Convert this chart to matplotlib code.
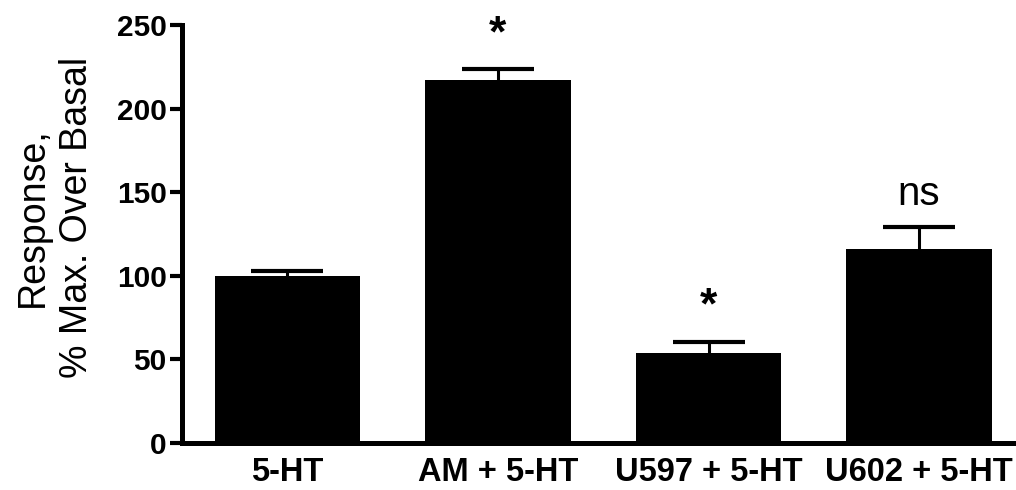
import numpy as np
import matplotlib
matplotlib.use('Agg')
import matplotlib.pyplot as plt

plt.rcParams['font.family'] = ['Liberation Sans', 'DejaVu Sans']

groups = ['5-HT', 'AM + 5-HT', 'U597 + 5-HT', 'U602 + 5-HT']
response = [100, 217, 54, 116]
sem = [3, 6.5, 6.5, 13]
marks = ['', '*', '*', 'ns']

fig = plt.figure(figsize=(10.16, 4.9), dpi=100)
ax = fig.add_axes([0.179, 0.096, 0.819, 0.853])

x = np.arange(len(groups))
ax.bar(x, response, width=0.69, color='black', zorder=2)
eb = ax.errorbar(x, response, yerr=[np.zeros(len(sem)), sem], fmt='none',
                 ecolor='black', elinewidth=2.2, capsize=26, capthick=3, zorder=3)
# only the upper cap is wanted
eb[1][0].set_visible(False)

# significance marks above the error bars
for xi, top, m in zip(x, np.add(response, sem), marks):
    if not m:
        continue
    if m == '*':
        ax.annotate(m, (xi, top), xytext=(0, 25), textcoords='offset points',
                    ha='center', va='center', fontsize=32, fontweight='bold',
                    annotation_clip=False)
    else:
        ax.annotate(m, (xi, top), xytext=(0, 24), textcoords='offset points',
                    ha='center', va='center', fontsize=29,
                    annotation_clip=False)

ax.set_xlim(-0.5, 3.45)
ax.set_ylim(0, 250)
ax.set_yticks([0, 50, 100, 150, 200, 250])
ax.set_xticks(x)
ax.set_xticklabels(groups, fontsize=23.5, fontweight='bold')
ax.tick_params(axis='y', labelsize=21.5, width=3, length=9, pad=2, direction='out')
ax.tick_params(axis='x', length=0, pad=10)
for lab in ax.get_yticklabels():
    lab.set_fontweight('bold')

ax.spines['top'].set_visible(False)
ax.spines['right'].set_visible(False)
ax.spines['left'].set_linewidth(3.6)
ax.spines['bottom'].set_linewidth(3.6)

ax.set_ylabel('Response,\n% Max. Over Basal', fontsize=27, linespacing=1.3)
ax.yaxis.set_label_coords(-0.104, 0.54)

fig.savefig('out.png', dpi=100)
